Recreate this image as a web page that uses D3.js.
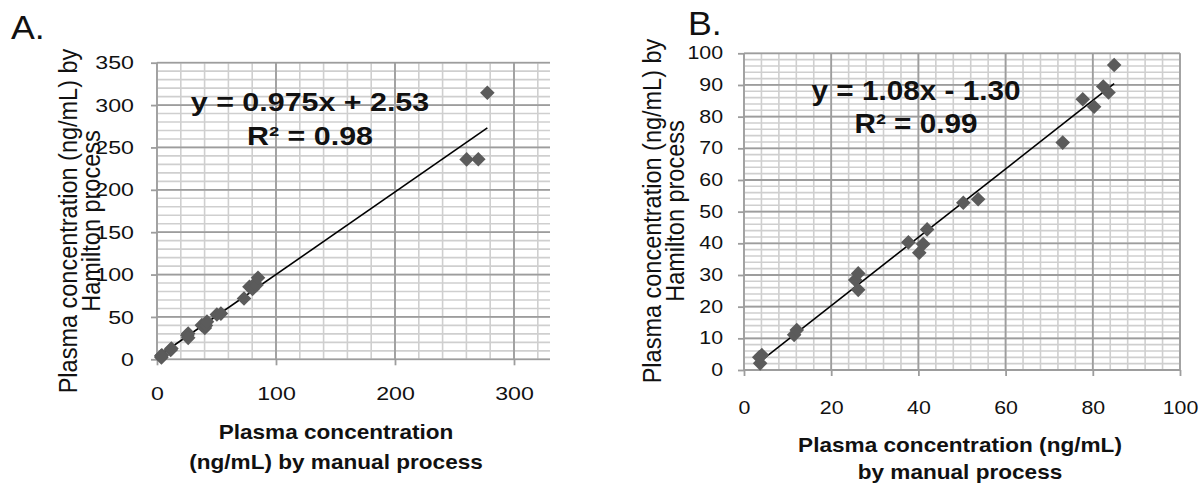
<!DOCTYPE html>
<html><head><meta charset="utf-8">
<script src="https://cdn.jsdelivr.net/npm/d3@7"></script>
<style>
body{margin:0;background:#fff}
svg{display:block}
text{font-family:"Liberation Sans",Arial,sans-serif;fill:#111}
</style>
</head><body>
<svg id="c" width="1199" height="484"></svg>
<script>
// ---- data ----
const manualLow   = [3.7, 4.1, 3.5, 11.5, 12.1, 25.5, 26.2, 26.2, 37.7, 40.2, 41.1, 42.0, 50.3, 53.7, 73.1, 77.7, 80.3, 82.4, 83.6, 84.9];
const hamiltonLow = [2.1, 4.7, 4.0, 11.1, 12.6, 28.4, 30.5, 25.3, 40.3, 37.0, 39.8, 44.4, 52.8, 53.9, 71.8, 85.5, 83.1, 89.5, 87.6, 96.3];
const manualHigh   = [260.2, 270.0, 277.6];
const hamiltonHigh = [235.9, 236.0, 314.5];
const fitA = {slope: 0.975, intercept: 2.53, eq: "y = 0.975x + 2.53", r2: "R² = 0.98"};
const fitB = {slope: 1.08, intercept: -1.30, eq: "y = 1.08x - 1.30", r2: "R² = 0.99"};
const ticksAx = [0, 100, 200, 300];
const ticksAy = [0, 50, 100, 150, 200, 250, 300, 350];
const ticksBx = [0, 20, 40, 60, 80, 100];
const ticksBy = [0, 10, 20, 30, 40, 50, 60, 70, 80, 90, 100];
const yTitle = ["Plasma concentration (ng/mL) by", "Hamilton process"];
const xTitleA = ["Plasma concentration", "(ng/mL) by manual process"];
const xTitleB = ["Plasma concentration (ng/mL)", "by manual process"];

const svg = d3.select("#c");
const SX = 1.13;
const TSX = 1.22;
const MARK = "#5b5b5b", MAJ = "#9d9d9d", MIN = "#cfcfcf";

function txt(g, x, y, s, o = {}) {
  const sx = o.sx || SX;
  return g.append("text")
    .attr("transform", `translate(${x},${y}) scale(${sx},1)` + (o.rot ? ` rotate(${o.rot})` : ""))
    .attr("text-anchor", o.anchor || "middle")
    .style("font-size", (o.size || 18) + "px")
    .style("font-weight", o.weight || "normal")
    .text(s);
}

function panel(c) {
  const x = d3.scaleLinear().domain(c.xDom).range(c.xRange);
  const y = d3.scaleLinear().domain(c.yDom).range(c.yRange);
  const g = svg.append("g");
  const id = "clip" + c.name;
  g.append("clipPath").attr("id", id).append("rect")
    .attr("x", c.xRange[0] - 1).attr("y", c.yRange[1] - 1.5)
    .attr("width", c.clipRight - c.xRange[0] + 1).attr("height", c.yRange[0] - c.yRange[1] + 3);
  const grid = g.append("g").attr("clip-path", `url(#${id})`);
  const xMin = d3.range(c.xDom[0], c.xDom[1] + 1e-9, c.xMinor);
  const yMin = d3.range(c.yDom[0], c.yDom[1] + 1e-9, c.yMinor);
  grid.selectAll(".vm").data(xMin).join("line")
    .attr("x1", d => x(d)).attr("x2", d => x(d)).attr("y1", y.range()[0]).attr("y2", y.range()[1])
    .attr("stroke", MIN).attr("stroke-width", 1.6);
  grid.selectAll(".hm").data(yMin).join("line")
    .attr("y1", d => y(d)).attr("y2", d => y(d)).attr("x1", x.range()[0]).attr("x2", x.range()[1])
    .attr("stroke", MIN).attr("stroke-width", 1.6);
  grid.selectAll(".vM").data(c.xTicks).join("line")
    .attr("x1", d => x(d)).attr("x2", d => x(d)).attr("y1", y.range()[0]).attr("y2", y.range()[1])
    .attr("stroke", MAJ).attr("stroke-width", 1.8);
  grid.selectAll(".hM").data(c.yTicks).join("line")
    .attr("y1", d => y(d)).attr("y2", d => y(d)).attr("x1", x.range()[0]).attr("x2", x.range()[1])
    .attr("stroke", MAJ).attr("stroke-width", 1.8);

  // axes (tick marks + labels)
  const ax = g.append("g").attr("transform", `translate(0,${y(0)})`)
    .call(d3.axisBottom(x).tickValues(c.xTicks).tickSizeInner(6).tickSizeOuter(0).tickPadding(c.xPad).tickFormat(d3.format("d")));
  const ay = g.append("g").attr("transform", `translate(${x(0)},0)`)
    .call(d3.axisLeft(y).tickValues(c.yTicks).tickSizeInner(6).tickSizeOuter(0).tickPadding(c.yPad).tickFormat(d3.format("d")));
  [ax, ay].forEach(a => {
    a.select(".domain").remove();
    a.selectAll(".tick line").attr("stroke", MAJ).attr("stroke-width", 1.8);
    a.selectAll(".tick text").style("font-size", c.tickSize + "px")
      .style("font-family", '"Liberation Sans",Arial,sans-serif').attr("fill", "#111");
  });
  ay.selectAll(".tick text").each(function () {
    const t = d3.select(this); const xx = +t.attr("x");
    t.attr("x", xx / TSX).attr("transform", `scale(${TSX},1)`);
  });
  ax.selectAll(".tick text").attr("transform", `scale(${TSX},1)`);

  // fit line
  const xs = c.xs, ys = c.ys;
  const x0 = d3.min(xs), x1 = d3.max(xs);
  g.append("line")
    .attr("x1", x(x0)).attr("y1", y(c.fit.slope * x0 + c.fit.intercept))
    .attr("x2", x(x1)).attr("y2", y(c.fit.slope * x1 + c.fit.intercept))
    .attr("stroke", "#000").attr("stroke-width", 1.6);

  // markers (diamonds)
  const pts = xs.map((v, i) => [v, ys[i]]);
  const r = 7.3;
  g.selectAll(".pt").data(pts).join("path")
    .attr("d", d => {
      const px = x(d[0]), py = y(d[1]);
      return `M${px},${py - r}L${px + r},${py}L${px},${py + r}L${px - r},${py}Z`;
    })
    .attr("fill", MARK);

  // equation
  txt(g, c.eqX, c.eqY1, c.fit.eq, {size: c.eqSize, weight: "bold", sx: c.eqSX});
  txt(g, c.eqX, c.eqY2, c.fit.r2, {size: c.eqSize, weight: "bold", sx: c.eqSX});

  // titles
  c.xTitle.forEach((s, i) => txt(g, c.xtX, c.xtY[i], s, {size: 20, weight: "bold"}));
  yTitle.forEach((s, i) => txt(g, c.ytX[i], c.ytY, s, {size: 23.5, rot: -90, sx: 1.1}));
  txt(g, c.lblX, c.lblY, c.label, {size: 34, anchor: "start", sx: 1.05});
}

panel({
  name: "A", label: "A.", lblX: 11, lblY: 39,
  xDom: [0, 350], yDom: [0, 350], xRange: [157, 157 + 350 * 1.19], yRange: [359.3, 62.7], clipRight: 550,
  xMinor: 20, yMinor: 10, xTicks: ticksAx, yTicks: ticksAy, xPad: 21, yPad: 17, tickSize: 19,
  xs: manualLow.concat(manualHigh), ys: hamiltonLow.concat(hamiltonHigh), fit: fitA,
  eqX: 310, eqY1: 111, eqY2: 145, eqSize: 26, eqSX: 1.17,
  xTitle: xTitleA, xtX: 336, xtY: [439, 469], ytX: [77, 100], ytY: 221
});
panel({
  name: "B", label: "B.", lblX: 688, lblY: 35,
  xDom: [0, 100], yDom: [0, 100], xRange: [744, 1180], yRange: [370, 53.3], clipRight: 1181,
  xMinor: 4, yMinor: 2, xTicks: ticksBx, yTicks: ticksBy, xPad: 26, yPad: 15, tickSize: 17.5,
  xs: manualLow, ys: hamiltonLow, fit: fitB,
  eqX: 916, eqY1: 100, eqY2: 133, eqSize: 27, eqSX: 1.1,
  xTitle: xTitleB, xtX: 960, xtY: [452, 479], ytX: [661, 684], ytY: 211
});
</script>
</body></html>
